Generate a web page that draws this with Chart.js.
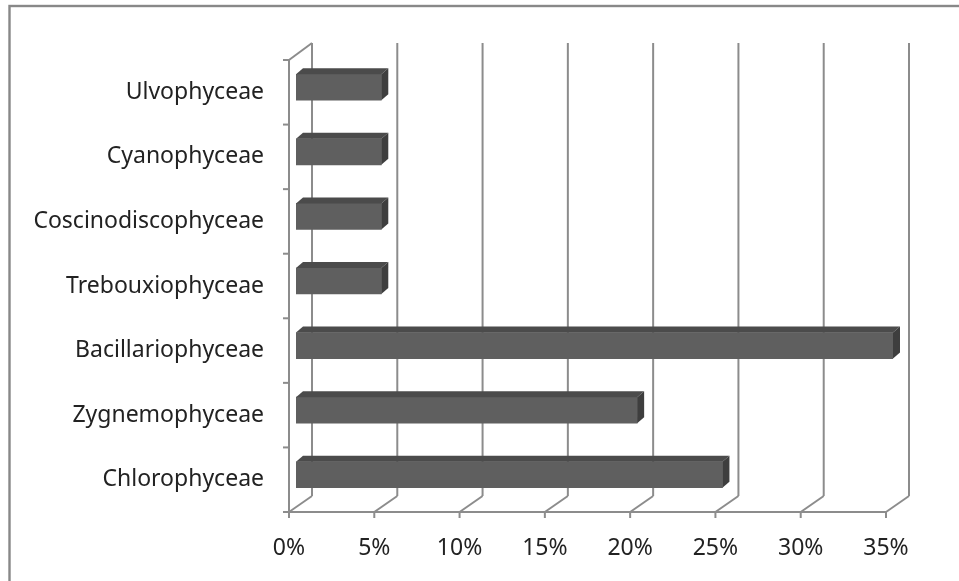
<!DOCTYPE html>
<html>
<head>
<meta charset="utf-8">
<title>Algal classes</title>
<script src="https://cdn.jsdelivr.net/npm/chart.js@4.4.1/dist/chart.umd.min.js"></script>
<style>
  html, body { margin: 0; padding: 0; background: #ffffff; }
  #wrap { width: 959px; height: 581px; position: relative; }
</style>
</head>
<body>
<div id="wrap"><canvas id="c" width="959" height="581"></canvas></div>
<script>
// Share of each algal class (percent)
const categories = ['Ulvophyceae', 'Cyanophyceae', 'Coscinodiscophyceae', 'Trebouxiophyceae',
                    'Bacillariophyceae', 'Zygnemophyceae', 'Chlorophyceae'];
const shares = [5, 5, 5, 5, 35, 20, 25];
const axisMin = 0, axisMax = 35, axisStep = 5;

// Oblique depth of the back wall and of the bars
const WALL_DX = 23, WALL_DY = -16, WALL_TOP_DY = -17;
const BAR_DX = 7, BAR_DY = -5, BAR_DEPTH_X = 7, BAR_DEPTH_Y = -6;
const LINE = '#8c8c8c';

const frame3d = {
  id: 'frame3d',
  beforeDatasetsDraw(chart) {
    const { ctx, chartArea: a, scales: { x, y } } = chart;
    ctx.save();
    // outer chart border
    ctx.strokeStyle = '#888888';
    ctx.lineWidth = 2.4;
    ctx.strokeRect(9.5, 6, 1000, 1000);

    ctx.strokeStyle = LINE;
    ctx.lineWidth = 2;
    ctx.lineCap = 'butt';
    const line = (x1, y1, x2, y2) => { ctx.beginPath(); ctx.moveTo(x1, y1); ctx.lineTo(x2, y2); ctx.stroke(); };

    // back-wall gridlines and floor diagonals
    for (let v = axisMin; v <= axisMax; v += axisStep) {
      const fx = x.getPixelForValue(v);
      line(fx + WALL_DX, a.bottom + WALL_DY, fx + WALL_DX, a.top + WALL_TOP_DY);
      line(fx, a.bottom, fx + WALL_DX, a.bottom + WALL_DY);
      line(fx, a.bottom, fx, a.bottom + 6);
    }
    // front horizontal axis
    line(a.left, a.bottom, a.right, a.bottom);
    // left wall
    line(a.left, a.top, a.left, a.bottom);
    line(a.left, a.top, a.left + WALL_DX, a.top + WALL_TOP_DY);
    for (let i = 0; i <= categories.length; i++) {
      const py = y.getPixelForValue(i - 0.5);
      line(a.left - 6, py, a.left, py);
    }
    ctx.restore();
    // bars are drawn shifted into the depth of the plot
    ctx.save();
    ctx.translate(BAR_DX, BAR_DY);
  },
  afterDatasetsDraw(chart) {
    const { ctx } = chart;
    ctx.restore();
    ctx.save();
    const meta = chart.getDatasetMeta(0);
    meta.data.forEach(bar => {
      const p = bar.getProps(['x', 'y', 'base', 'height'], true);
      const left = p.base + BAR_DX, right = p.x + BAR_DX;
      const top = p.y - p.height / 2 + BAR_DY, bottom = p.y + p.height / 2 + BAR_DY;
      // top face
      ctx.fillStyle = '#4b4b4b';
      ctx.beginPath();
      ctx.moveTo(left, top);
      ctx.lineTo(left + BAR_DEPTH_X, top + BAR_DEPTH_Y);
      ctx.lineTo(right + BAR_DEPTH_X, top + BAR_DEPTH_Y);
      ctx.lineTo(right, top);
      ctx.closePath();
      ctx.fill();
      // end face
      ctx.fillStyle = '#3e3e3e';
      ctx.beginPath();
      ctx.moveTo(right, top);
      ctx.lineTo(right + BAR_DEPTH_X, top + BAR_DEPTH_Y);
      ctx.lineTo(right + BAR_DEPTH_X, bottom + BAR_DEPTH_Y);
      ctx.lineTo(right, bottom);
      ctx.closePath();
      ctx.fill();
    });
    ctx.restore();
  }
};

const labelFont = { family: '"Noto Sans", "Open Sans", sans-serif', size: 23 };

new Chart(document.getElementById('c'), {
  type: 'bar',
  data: {
    labels: categories,
    datasets: [{
      data: shares,
      backgroundColor: '#5f5f5f',
      borderWidth: 0,
      barThickness: 26
    }]
  },
  options: {
    indexAxis: 'y',
    responsive: false,
    animation: false,
    events: [],
    layout: { padding: { left: 0, right: 73, top: 60, bottom: 0 } },
    plugins: { legend: { display: false }, tooltip: { enabled: false } },
    scales: {
      x: {
        min: axisMin, max: axisMax,
        grid: { display: false, drawTicks: false },
        border: { display: false },
        ticks: {
          stepSize: axisStep,
          padding: 23,
          color: '#222222',
          font: labelFont,
          maxRotation: 0,
          callback: v => v + '%'
        },
        afterFit(scale) { scale.height = 69; }
      },
      y: {
        grid: { display: false, drawTicks: false },
        border: { display: false },
        ticks: { padding: 25, color: '#222222', font: labelFont, autoSkip: false },
        afterFit(scale) { scale.width = 289; }
      }
    }
  },
  plugins: [frame3d]
});
</script>
</body>
</html>
